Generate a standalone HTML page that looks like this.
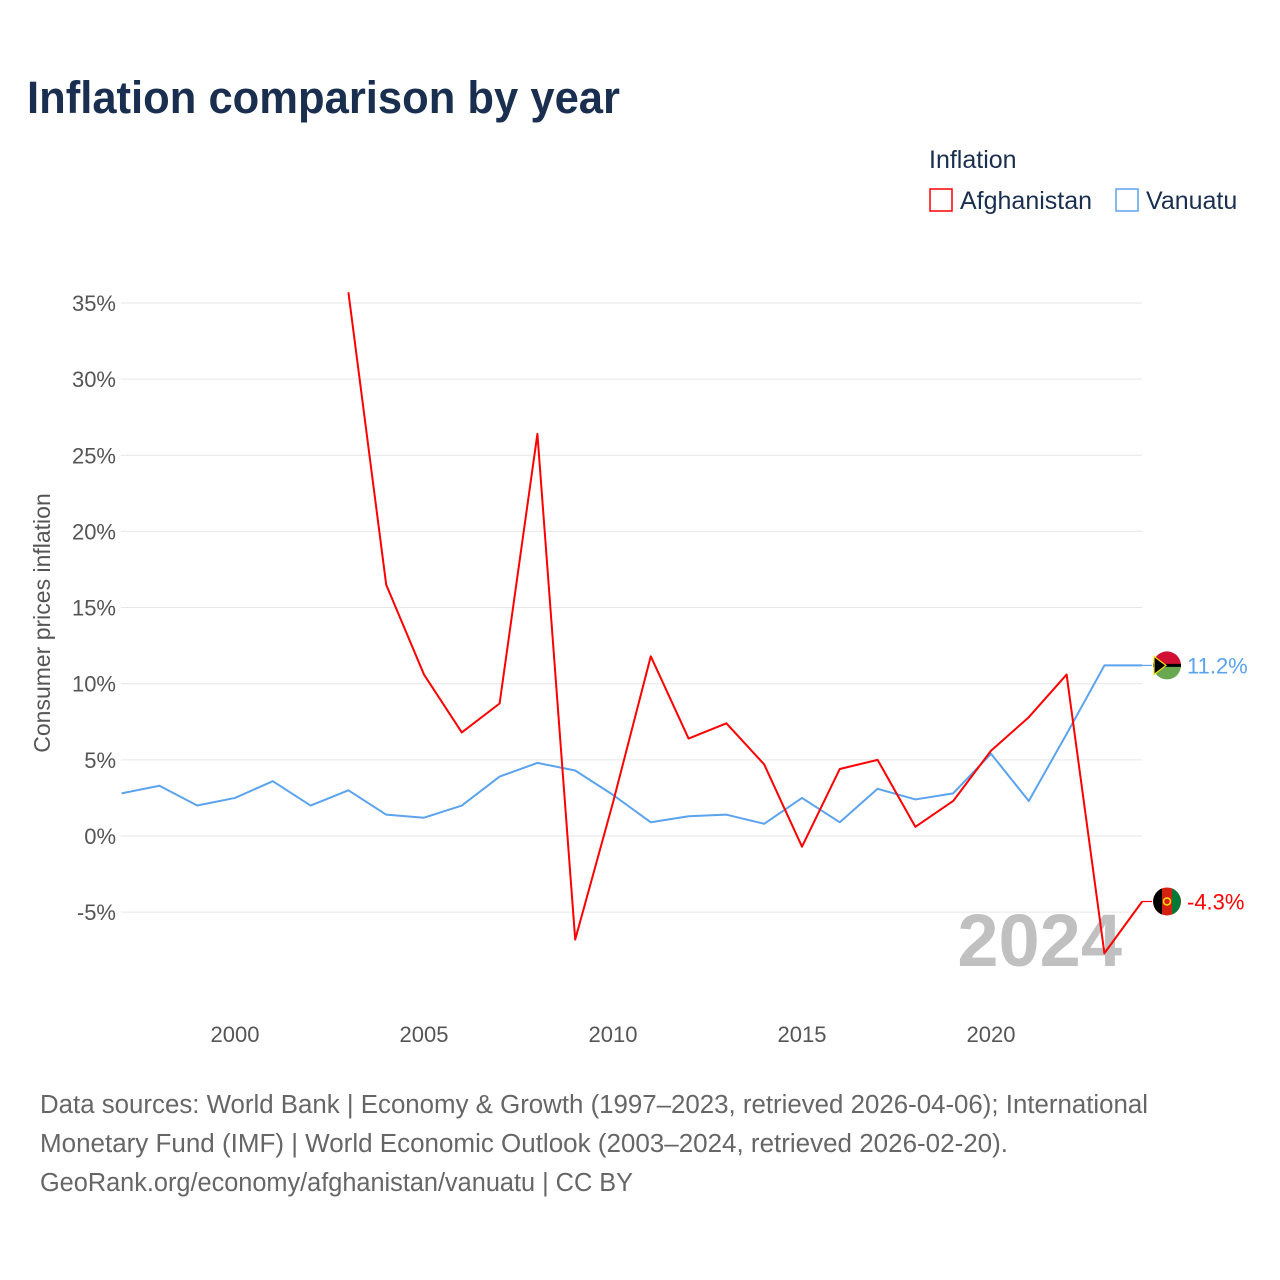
<!DOCTYPE html>
<html><head><meta charset="utf-8"><style>
body{margin:0;background:#fff;font-family:"Liberation Sans",sans-serif;}
#wrap{position:relative;width:1280px;height:1280px;overflow:hidden;}
</style></head><body><div id="wrap">
<svg id="chart" width="1280" height="1280"></svg>
</div>
<script>
const years=[1997,1998,1999,2000,2001,2002,2003,2004,2005,2006,2007,2008,2009,2010,2011,2012,2013,2014,2015,2016,2017,2018,2019,2020,2021,2022,2023,2024];
const vanuatu=[2.8,3.3,2.0,2.5,3.6,2.0,3.0,1.4,1.2,2.0,3.9,4.8,4.3,2.7,0.9,1.3,1.4,0.8,2.5,0.9,3.1,2.4,2.8,5.4,2.3,6.7,11.2,11.2];
const afgYears=[2003,2004,2005,2006,2007,2008,2009,2010,2011,2012,2013,2014,2015,2016,2017,2018,2019,2020,2021,2022,2023,2024];
const afghanistan=[35.7,16.5,10.6,6.8,8.7,26.4,-6.8,2.2,11.8,6.4,7.4,4.7,-0.7,4.4,5.0,0.6,2.3,5.6,7.8,10.6,-7.7,-4.3];
const yTicks=[-5,0,5,10,15,20,25,30,35];
const xTicks=[2000,2005,2010,2015,2020];
const NS="http://www.w3.org/2000/svg";
const svg=document.getElementById('chart');
const x=v=>121.6+(v-1997)*37.8;
const y=v=>836-v*15.23;
function mk(tag,attrs,parent){const e=document.createElementNS(NS,tag);for(const k in attrs)e.setAttribute(k,attrs[k]);(parent||svg).appendChild(e);return e;}
function txt(s,attrs){const e=mk('text',attrs);e.textContent=s;return e;}
let t=txt('Inflation comparison by year',{x:27,y:113,'font-size':45,'font-weight':'bold',fill:'#1a2e4f',textLength:593,lengthAdjust:'spacingAndGlyphs'});


t=txt('Inflation',{x:929,y:168,'font-size':25,fill:'#1a2e4f'});


let g=mk('g',{});


mk('rect',{x:930,y:189,width:22,height:22,fill:'none',stroke:'#ff0000','stroke-width':1.5},g);
let tt=mk('text',{x:960,y:209,'font-size':25,fill:'#1a2e4f'},g);tt.textContent='Afghanistan';
g=mk('g',{});


mk('rect',{x:1116,y:189,width:22,height:22,fill:'none',stroke:'#5ba3ee','stroke-width':1.5},g);
tt=mk('text',{x:1146,y:209,'font-size':25,fill:'#1a2e4f'},g);tt.textContent='Vanuatu';
yTicks.forEach(v=>{
  const l=mk('line',{x1:121,x2:1142,y1:y(v),y2:y(v),stroke:'#e6e6e6','stroke-width':1});
  
  
  const e=txt(v+'%',{x:116,y:y(v)+8,'font-size':22,fill:'#555','text-anchor':'end'});
  
  
});
xTicks.forEach(v=>{
  const e=txt(String(v),{x:x(v),y:1042,'font-size':22,fill:'#555','text-anchor':'middle'});
  
  
});
t=txt('Consumer prices inflation',{x:0,y:0,'font-size':23,fill:'#555','text-anchor':'middle',transform:'translate(50,623) rotate(-90)'});


t=txt('2024',{x:1122,y:966,'font-size':74,'font-weight':'bold',fill:'#c0c0c0','text-anchor':'end'});


function line(xs,vals,color,name){
  const p=mk('polyline',{points:xs.map((yr,i)=>x(yr)+','+y(vals[i])).join(' '),fill:'none',stroke:color,'stroke-width':2,'stroke-linejoin':'round'});
  
  
  const last=vals[vals.length-1];
  mk('line',{x1:x(2024),x2:1152,y1:y(last),y2:y(last),stroke:color,'stroke-width':1.2});
}
line(years,vanuatu,'#5ba3ee','vanuatu-line');
line(afgYears,afghanistan,'#ff0000','afghanistan-line');
function flagLabel(val,color,name,flag){
  const cy=y(val);
  const g=mk('g',{});
  
  
  if(flag==='vu'){
    mk('path',{d:`M1153 ${cy} A14 14 0 0 1 1181 ${cy} Z`,fill:'#d21034'},g);
    mk('path',{d:`M1153 ${cy} A14 14 0 0 0 1181 ${cy} Z`,fill:'#6aa84f'},g);
    mk('line',{x1:1153,x2:1181,y1:cy,y2:cy,stroke:'#000','stroke-width':3},g);
    mk('path',{d:`M1154 ${cy-9} L1166 ${cy} L1154 ${cy+9} Z`,fill:'#000',stroke:'#fce300','stroke-width':1.2},g);
  }else{
    mk('circle',{cx:1167,cy:cy,r:14,fill:'#d32011'},g);
    mk('path',{d:`M1162 ${cy-13} A14 14 0 0 0 1162 ${cy+13} Z`,fill:'#000'},g);
    mk('path',{d:`M1172 ${cy-13} A14 14 0 0 1 1172 ${cy+13} Z`,fill:'#007a36'},g);
    mk('circle',{cx:1167,cy:cy,r:3.5,fill:'none',stroke:'#fce300','stroke-width':1.5},g);
  }
  const e=mk('text',{x:1187,y:cy+8,'font-size':22,fill:color},g);
  e.textContent=val.toFixed(1)+'%';
}
flagLabel(vanuatu[vanuatu.length-1],'#5ba3ee','vanuatu-end-label','vu');
flagLabel(afghanistan[afghanistan.length-1],'#ff0000','afghanistan-end-label','af');
const src=['Data sources: World Bank | Economy & Growth (1997–2023, retrieved 2026-04-06); International','Monetary Fund (IMF) | World Economic Outlook (2003–2024, retrieved 2026-02-20).','GeoRank.org/economy/afghanistan/vanuatu | CC BY'];
const srcLen=[1108,968,593];
src.forEach((s,i)=>{
  const e=txt(s,{x:40,y:1113+i*39,'font-size':25.5,fill:'#666',textLength:srcLen[i],lengthAdjust:'spacingAndGlyphs'});
  
  
});
</script></body></html>
